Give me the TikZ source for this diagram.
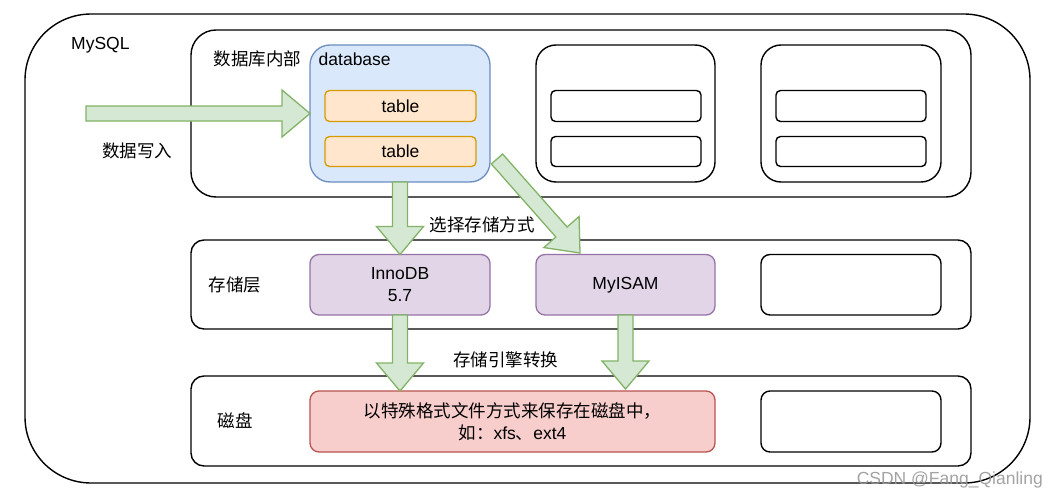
\documentclass[tikz,border=0pt]{standalone}
\usepackage{fontspec}
\setmainfont{Liberation Sans}
\newfontfamily\cjk{Noto Sans CJK SC}
\usetikzlibrary{calc}
\definecolor{bfill}{HTML}{DAE8FC}\definecolor{bline}{HTML}{6C8EBF}
\definecolor{ofill}{HTML}{FFE6CC}\definecolor{oline}{HTML}{D79B00}
\definecolor{pfill}{HTML}{E1D5E7}\definecolor{pline}{HTML}{9673A6}
\definecolor{rfill}{HTML}{F8CECC}\definecolor{rline}{HTML}{B85450}
\definecolor{gfill}{HTML}{D5E8D4}\definecolor{gline}{HTML}{82B366}
\newcommand\flexarrow[2]{%
  \coordinate (fa-hb) at ($(#2)!28pt!(#1)$);
  \filldraw[flex] ($(#1)!7.5pt!90:(#2)$) -- ($(fa-hb)!7.5pt!-90:(#1)$) -- ($(fa-hb)!23.5pt!-90:(#1)$) -- (#2) -- ($(fa-hb)!23.5pt!90:(#1)$) -- ($(fa-hb)!7.5pt!90:(#1)$) -- ($(#1)!7.5pt!-90:(#2)$) -- cycle;}
\begin{document}
\begin{tikzpicture}[x=1pt,y=-1pt,
  every node/.style={font=\fontsize{17.5}{22}\selectfont},
  box/.style={draw=black, line width=1.4pt, fill=white, inner sep=0pt, outer sep=0pt},
  dbbox/.style={draw=bline, fill=bfill, line width=1.3pt, inner sep=0pt, outer sep=0pt},
  tbbox/.style={draw=oline, fill=ofill, line width=1.3pt, inner sep=0pt, outer sep=0pt},
  engbox/.style={draw=pline, fill=pfill, line width=1.3pt, inner sep=0pt, outer sep=0pt, align=center},
  diskbox/.style={draw=rline, fill=rfill, line width=1.3pt, inner sep=0pt, outer sep=0pt, align=center},
  flex/.style={draw=gline, fill=gfill, line width=1.3pt, line join=miter},
  lbl/.style={inner sep=0pt},
  wm/.style={inner sep=0pt, text=black!40, opacity=0.9}]
\useasboundingbox (0,0) rectangle (1060,495);
% outer
\node[box, rounded corners=66pt, minimum width=1005pt, minimum height=469pt] (mysql) at (527.5,248.5) {};
% sections
\node[box, rounded corners=25pt, minimum width=780pt, minimum height=167pt] (top) at (581,113.5) {};
\node[box, rounded corners=13pt, minimum width=780pt, minimum height=89pt] (store) at (581,284.5) {};
\node[box, rounded corners=13pt, minimum width=780pt, minimum height=90pt] (disk) at (581,421) {};
% database
\node[dbbox, rounded corners=20pt, minimum width=180pt, minimum height=137pt] (db) at (400,113.5) {};
\node[tbbox, rounded corners=4.5pt, minimum width=151pt, minimum height=31pt] (t1) at (400.5,106) {table};
\node[tbbox, rounded corners=4.5pt, minimum width=151pt, minimum height=30pt] (t2) at (400.5,151.5) {table};
% other databases
\node[box, rounded corners=20pt, minimum width=179pt, minimum height=137pt] (db2) at (625.5,113.5) {};
\node[box, rounded corners=4.5pt, minimum width=150pt, minimum height=31pt] (db2a) at (626,106) {};
\node[box, rounded corners=4.5pt, minimum width=150pt, minimum height=30pt] (db2b) at (626,151.5) {};
\node[box, rounded corners=20pt, minimum width=180pt, minimum height=137pt] (db3) at (851,113.5) {};
\node[box, rounded corners=4.5pt, minimum width=150pt, minimum height=31pt] (db3a) at (851,106) {};
\node[box, rounded corners=4.5pt, minimum width=150pt, minimum height=30pt] (db3b) at (851,151.5) {};
% engines
\node[engbox, rounded corners=9pt, minimum width=180pt, minimum height=60.5pt] (inno) at (400,284.75) {InnoDB\\5.7};
\node[engbox, rounded corners=9pt, minimum width=179pt, minimum height=60.5pt] (myisam) at (625.5,284.75) {MyISAM};
\node[box, rounded corners=9pt, minimum width=180pt, minimum height=60.5pt] (eng3) at (851,284.75) {};
% disk
\node[diskbox, rounded corners=9pt, minimum width=405pt, minimum height=61pt] (red) at (512.5,421.5) {{\cjk 以特殊格式文件方式来保存在磁盘中，}\\{\cjk 如：}xfs{\cjk 、}ext4};
\node[box, rounded corners=9pt, minimum width=180pt, minimum height=61pt] (disk2) at (851,421.5) {};
% labels
\node[lbl, anchor=base west] (lmysql) at (71,50) {MySQL};
\node[lbl] (ldbin) at (257.5,59) {\cjk 数据库内部};
\node[lbl, anchor=base west] (ldb) at (318.5,66) {database};
\node[lbl] (lwrite) at (137,150.5) {\cjk 数据写入};
\node[lbl] (lsel) at (482,225) {\cjk 选择存储方式};
\node[lbl] (lstore) at (235,284.5) {\cjk 存储层};
\node[lbl] (ldisk) at (235,421) {\cjk 磁盘};
\node[lbl] (lconv) at (505.5,360) {\cjk 存储引擎转换};
% arrows
\coordinate (in1) at (86,113.5);
\coordinate (d1) at (497,159);
\coordinate (d2) at (580,253);
\coordinate (innoEnd) at (inno.south |- red.north);
\coordinate (myEnd) at ($(myisam.south |- red.north)+(0,-2)$);
\flexarrow{in1}{db.west}
\flexarrow{db.south}{inno.north}
\flexarrow{d1}{d2}
\flexarrow{inno.south}{innoEnd}
\flexarrow{myisam.south}{myEnd}
% watermark
\node[wm, anchor=base east] (wmark) at (1043,484) {CSDN @Fang\_Qianling};
\end{tikzpicture}
\end{document}
